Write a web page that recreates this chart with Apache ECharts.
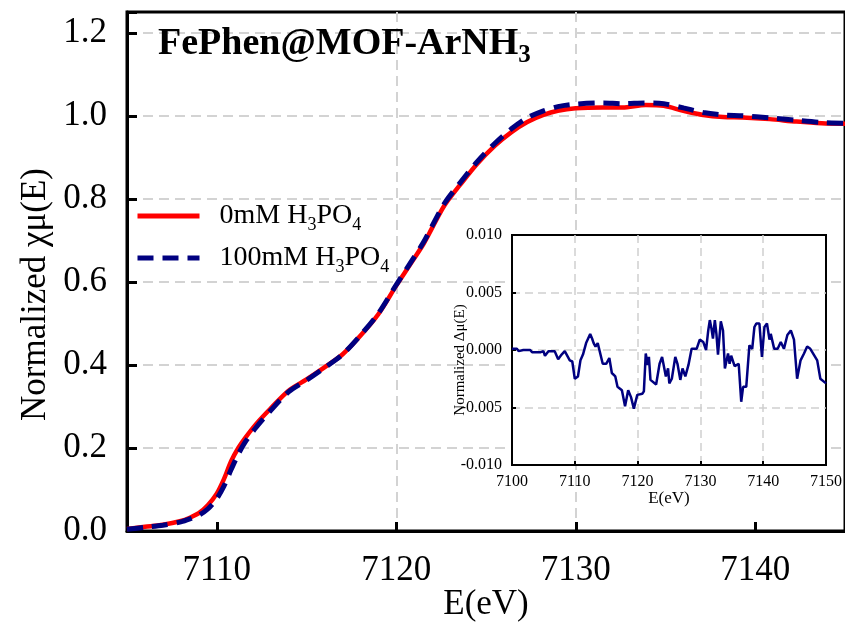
<!DOCTYPE html>
<html>
<head>
<meta charset="utf-8">
<script src="https://cdn.jsdelivr.net/npm/echarts@6/dist/echarts.min.js"></script>
<style>html,body{margin:0;padding:0;background:#fff;}#c{width:845px;height:633px;}</style>
</head>
<body>
<div id="c"></div>
<script>
// ---- data ----
const titleMain = 'FePhen@MOF-ArNH';
const titleSub = '3';
const seriesNames = ['0mM H3PO4', '100mM H3PO4'];
const xTicks = [7110, 7120, 7130, 7140];
const energy = [7105.0, 7106.0, 7107.0, 7108.0, 7108.5, 7109.0, 7109.5, 7110.0, 7110.4, 7110.8, 7111.2, 7111.6, 7112.2, 7113.0, 7114.0, 7115.0, 7116.0, 7117.0, 7118.0, 7119.0, 7120.0, 7120.7, 7121.5, 7122.0, 7122.7, 7123.6, 7124.5, 7125.5, 7126.4, 7127.3, 7128.2, 7129.0, 7130.0, 7131.5, 7132.6, 7133.9, 7134.9, 7136.0, 7137.1, 7138.2, 7139.3, 7140.8, 7142.3, 7143.7, 7145.0];
const mu0mM = [0.005, 0.010, 0.015, 0.024, 0.032, 0.043, 0.062, 0.090, 0.125, 0.168, 0.200, 0.225, 0.258, 0.295, 0.338, 0.365, 0.394, 0.425, 0.470, 0.522, 0.591, 0.637, 0.690, 0.730, 0.785, 0.836, 0.884, 0.928, 0.960, 0.985, 1.002, 1.012, 1.018, 1.020, 1.020, 1.026, 1.024, 1.012, 1.002, 0.997, 0.996, 0.992, 0.986, 0.982, 0.981];
const mu100mM = [0.004, 0.009, 0.014, 0.022, 0.029, 0.038, 0.053, 0.078, 0.108, 0.148, 0.185, 0.215, 0.250, 0.290, 0.335, 0.363, 0.393, 0.425, 0.471, 0.524, 0.593, 0.640, 0.694, 0.735, 0.790, 0.841, 0.889, 0.934, 0.968, 0.995, 1.012, 1.022, 1.028, 1.031, 1.029, 1.031, 1.029, 1.019, 1.008, 1.002, 1.000, 0.995, 0.989, 0.984, 0.982];
const diffE = [7100.0, 7100.8, 7101.05, 7101.8, 7102.4, 7102.9, 7103.2, 7104.5, 7105.0, 7105.25, 7105.8, 7106.3, 7106.8, 7107.35, 7107.9, 7108.4, 7108.65, 7109.2, 7109.6, 7110.0, 7110.5, 7110.9, 7111.3, 7111.8, 7112.45, 7112.75, 7113.0, 7113.3, 7113.65, 7114.45, 7115.0, 7115.5, 7115.9, 7116.45, 7116.8, 7117.5, 7118.0, 7118.5, 7118.95, 7119.4, 7119.95, 7120.75, 7121.0, 7121.3, 7121.6, 7121.8, 7122.05, 7122.95, 7123.5, 7123.9, 7124.5, 7124.85, 7125.05, 7125.45, 7126.0, 7126.35, 7126.8, 7127.15, 7127.6, 7128.1, 7128.6, 7129.4, 7129.9, 7130.45, 7130.9, 7131.25, 7131.5, 7131.75, 7132.0, 7132.3, 7132.55, 7132.8, 7133.25, 7133.6, 7133.9, 7134.4, 7134.65, 7134.9, 7135.45, 7136.1, 7136.5, 7136.8, 7137.3, 7137.8, 7138.25, 7138.6, 7138.9, 7139.4, 7139.8, 7140.2, 7140.6, 7141.0, 7141.2, 7141.75, 7142.3, 7142.8, 7143.3, 7143.85, 7144.4, 7144.9, 7145.4, 7145.95, 7146.5, 7147.0, 7147.5, 7148.6, 7149.1, 7150.0];
const diffVal = [0.0001, 0.0001, -0.0001, 0.0000, 0.0000, 0.0000, -0.0002, -0.0002, -0.0001, -0.0005, -0.0001, -0.0001, -0.0001, -0.0008, -0.0004, -0.0001, -0.0002, -0.0009, -0.0010, -0.0025, -0.0023, -0.0009, -0.0004, 0.0006, 0.0014, 0.0010, 0.0006, 0.0003, 0.0006, -0.0012, -0.0012, -0.0007, -0.0020, -0.0023, -0.0032, -0.0035, -0.0049, -0.0035, -0.0041, -0.0051, -0.0039, -0.0038, -0.0036, -0.0003, -0.0013, -0.0006, -0.0026, -0.0030, -0.0012, -0.0006, -0.0023, -0.0016, -0.0029, -0.0025, -0.0006, -0.0012, -0.0026, -0.0016, -0.0023, -0.0013, 0.0001, 0.0001, 0.0009, 0.0007, 0.0000, 0.0017, 0.0026, 0.0019, 0.0010, 0.0026, 0.0014, -0.0004, 0.0025, 0.0017, -0.0016, -0.0003, -0.0012, -0.0005, -0.0014, -0.0012, -0.0045, -0.0032, -0.0032, 0.0004, 0.0001, 0.0020, 0.0023, 0.0023, -0.0006, 0.0020, 0.0023, 0.0009, 0.0014, 0.0001, 0.0001, 0.0007, 0.0001, 0.0013, 0.0017, 0.0009, -0.0025, -0.0009, -0.0003, 0.0003, 0.0001, -0.0009, -0.0025, -0.0029];

// ---- chart ----
const FONT = '"Liberation Serif", "Times New Roman", serif';
const zip = (a, b) => a.map((v, i) => [v, b[i]]);

const chart = echarts.init(document.getElementById('c'), null, {renderer: 'canvas'});
chart.setOption({
  backgroundColor: '#fff',
  animation: false,
  textStyle: {fontFamily: FONT, color: '#000'},
  title: {
    text: '{a|' + titleMain + '}{s|' + titleSub + '}',
    left: 153, top: 16,
    textStyle: {
      rich: {
        a: {fontFamily: FONT, fontWeight: 'bold', fontSize: 38, color: '#000'},
        s: {fontFamily: FONT, fontWeight: 'bold', fontSize: 25, color: '#000', padding: [22, 0, 0, 0]}
      }
    }
  },
  legend: {
    orient: 'vertical',
    left: 130, top: 197,
    itemWidth: 62, itemHeight: 2, itemGap: 10,
    data: seriesNames,
    lineStyle: {width: 5},
    formatter: (n) => '{a|' + n.replace(/H3PO4/, 'H}{s|3}{a|PO}{s|4}{a|').replace(/\{a\|$/, '').replace(/\}$/, '') + '}',
    textStyle: {
      rich: {
        a: {fontFamily: FONT, fontSize: 28, color: '#000'},
        s: {fontFamily: FONT, fontSize: 18, color: '#000', padding: [18, 0, 0, 0]}
      },
      padding: [0, 0, 0, 15]
    }
  },
  grid: [
    {left: 127, top: 12, right: -4, bottom: 102, show: true, borderColor: '#000', borderWidth: 3, backgroundColor: 'transparent'},
    {left: 512, top: 235, width: 317, height: 230, show: true, borderColor: '#000', borderWidth: 2, backgroundColor: '#fff', z: 5}
  ],
  xAxis: [
    {
      gridIndex: 0, type: 'value', min: 7105, max: 7145,
      name: 'E(eV)', nameLocation: 'middle', nameGap: 56, nameMoveOverlap: false,
      nameTextStyle: {fontFamily: FONT, fontSize: 35, color: '#000'},
      axisLine: {onZero: false, lineStyle: {color: '#000', width: 3}},
      axisTick: {inside: true, length: 9, lineStyle: {color: '#000', width: 3}, customValues: xTicks},
      axisLabel: {fontFamily: FONT, fontSize: 35, color: '#000', margin: 22, customValues: xTicks, formatter: (v) => String(v)},
      splitLine: {show: true, showMinLine: false, showMaxLine: false, lineStyle: {color: '#d3d3d3', width: 2, type: [10, 6]}}
    },
    {
      gridIndex: 1, type: 'value', min: 7100, max: 7150, interval: 10, z: 6,
      name: 'E(eV)', nameLocation: 'middle', nameGap: 25, nameMoveOverlap: false,
      nameTextStyle: {fontFamily: FONT, fontSize: 17, color: '#000'},
      axisLine: {onZero: false, lineStyle: {color: '#000', width: 2}},
      axisTick: {inside: true, length: 4, lineStyle: {color: '#000', width: 2}},
      axisLabel: {fontFamily: FONT, fontSize: 16, color: '#000', margin: 9, formatter: (v) => String(v)},
      splitLine: {show: true, showMinLine: false, showMaxLine: false, lineStyle: {color: '#cfcfcf', width: 1.5, type: [8, 5]}}
    }
  ],
  yAxis: [
    {
      gridIndex: 0, type: 'value', min: 0, max: 1.25, interval: 0.2,
      name: 'Normalized χμ(E)', nameLocation: 'middle', nameGap: 74, nameMoveOverlap: false,
      nameTextStyle: {fontFamily: FONT, fontSize: 35, color: '#000', padding: [0, 46, 0, 0]},
      axisLine: {onZero: false, lineStyle: {color: '#000', width: 3}},
      axisTick: {inside: true, length: 10, lineStyle: {color: '#000', width: 3}},
      axisLabel: {fontFamily: FONT, fontSize: 35, color: '#000', margin: 20,
        formatter: (v) => (Math.abs(v / 0.2 - Math.round(v / 0.2)) < 1e-6 ? v.toFixed(1) : '')},
      splitLine: {show: true, showMinLine: false, showMaxLine: false, lineStyle: {color: '#d3d3d3', width: 2, type: [10, 6]}}
    },
    {
      gridIndex: 1, type: 'value', min: -0.01, max: 0.01, interval: 0.005, z: 6,
      name: 'Normalized Δμ(E)', nameLocation: 'middle', nameGap: 44, nameMoveOverlap: false,
      nameTextStyle: {fontFamily: FONT, fontSize: 15, color: '#000', padding: [0, 20, 0, 0]},
      axisLine: {onZero: false, lineStyle: {color: '#000', width: 2}},
      axisTick: {inside: true, length: 4, lineStyle: {color: '#000', width: 2}},
      axisLabel: {fontFamily: FONT, fontSize: 16, color: '#000', margin: 10, formatter: (v) => v.toFixed(3)},
      splitLine: {show: true, showMinLine: false, showMaxLine: false, lineStyle: {color: '#cfcfcf', width: 1.5, type: [8, 5]}}
    }
  ],
  series: [
    {
      name: seriesNames[0], type: 'line', xAxisIndex: 0, yAxisIndex: 0, z: 2,
      data: zip(energy, mu0mM), symbol: 'none', smooth: 0.3,
      lineStyle: {color: '#ff0000', width: 4.5}, itemStyle: {color: '#ff0000'}
    },
    {
      name: seriesNames[1], type: 'line', xAxisIndex: 0, yAxisIndex: 0, z: 3,
      data: zip(energy, mu100mM), symbol: 'none', smooth: 0.3,
      lineStyle: {color: '#000080', width: 5, type: [16, 9]}, itemStyle: {color: '#000080'}
    },
    {
      name: 'diff', type: 'line', xAxisIndex: 1, yAxisIndex: 1, z: 8,
      data: zip(diffE, diffVal), symbol: 'none',
      lineStyle: {color: '#000080', width: 2.5}
    }
  ]
});
</script>
</body>
</html>
